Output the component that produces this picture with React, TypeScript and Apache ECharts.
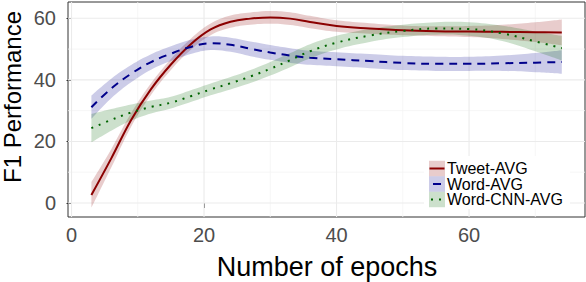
import React, { useEffect, useRef } from "react";
import * as echarts from "echarts";

const epochs = [3, 6, 9, 12, 15, 18, 21, 24, 27, 30, 33, 36, 40, 45, 50, 55, 60, 65, 70, 74];

const tweetAvg = [2.6, 14.5, 27.0, 37.0, 45.0, 51.6, 56.4, 58.9, 59.9, 60.3, 59.9, 58.8, 57.5, 56.7, 56.1, 55.8, 55.7, 55.6, 55.5, 55.4];
const tweetLow = [-1.6, 11.5, 24.8, 35.1, 43.2, 49.8, 54.5, 56.9, 57.9, 58.2, 57.8, 56.8, 55.65, 55.0, 54.5, 54.2, 53.9, 53.3, 52.3, 51.2];
const tweetHigh = [6.8, 17.5, 29.2, 38.9, 46.8, 53.4, 58.3, 60.9, 61.9, 62.4, 62.0, 60.8, 59.35, 58.4, 57.7, 57.4, 57.5, 57.9, 58.7, 59.6];

const wordAvg = [31.1, 37.2, 42.0, 45.8, 48.5, 50.7, 51.9, 51.4, 50.1, 48.9, 47.9, 47.2, 46.7, 46.1, 45.5, 45.2, 45.2, 45.4, 45.6, 45.8];
const wordLow = [27.3, 34.0, 39.2, 43.3, 46.1, 48.4, 49.7, 49.1, 47.7, 46.5, 45.5, 44.9, 44.4, 43.8, 43.2, 42.9, 42.9, 42.9, 42.5, 42.0];
const wordHigh = [34.9, 40.4, 44.8, 48.3, 50.9, 53.0, 54.1, 53.7, 52.5, 51.3, 50.3, 49.5, 49.0, 48.4, 47.8, 47.5, 47.5, 47.9, 48.7, 49.6];

const cnnAvg = [24.3, 27.0, 29.4, 31.2, 32.6, 34.7, 36.9, 38.9, 41.1, 43.6, 46.4, 49.3, 52.1, 54.4, 55.9, 56.7, 56.5, 55.1, 52.5, 50.3];
const cnnLow = [19.7, 23.5, 26.8, 29.1, 30.7, 32.8, 35.0, 36.9, 39.0, 41.4, 44.1, 47.0, 49.9, 52.3, 53.9, 54.7, 54.3, 52.6, 49.3, 46.3];
const cnnHigh = [28.9, 30.5, 32.0, 33.3, 34.5, 36.6, 38.8, 40.9, 43.2, 45.8, 48.7, 51.6, 54.3, 56.5, 57.9, 58.7, 58.7, 57.6, 55.7, 54.3];

const xTicks = [0, 20, 40, 60];
const xMinorTicks = [10, 30, 50, 70];
const yTicks = [0, 20, 40, 60];
const yMinorTicks = [10, 30, 50];

const seriesNames = ["Tweet-AVG", "Word-AVG", "Word-CNN-AVG"];

const FONT = "'Liberation Sans', Arial, sans-serif";
const X_MIN = -0.53;
const X_MAX = 77.5;
const Y_MIN = -4.55;
const Y_MAX = 65.3;
const SMOOTH = 0.4;

// Same smoothing scheme as ECharts line series (poly.ts), on pixel points
function smoothPath(pts: number[][], startWithMove: boolean): string {
  let d = "";
  const n = pts.length;
  let prevX = 0, prevY = 0, cpx0 = 0, cpy0 = 0;
  for (let k = 0; k < n; k++) {
    const [x, y] = pts[k];
    if (k === 0) {
      d += (startWithMove ? "M" : "L") + x + " " + y + " ";
      cpx0 = x; cpy0 = y;
    } else {
      let ratio = 0.5, vx = 0, vy = 0, ncx = x, ncy = y;
      if (k + 1 < n) {
        const [nx, ny] = pts[k + 1];
        vx = nx - prevX; vy = ny - prevY;
        const l0 = Math.hypot(x - prevX, y - prevY);
        const l1 = Math.hypot(nx - x, ny - y);
        ratio = l1 / (l0 + l1);
        ncx = x + vx * SMOOTH * ratio;
        ncy = y + vy * SMOOTH * ratio;
      }
      const cpx1 = x - vx * SMOOTH * (1 - ratio);
      const cpy1 = y - vy * SMOOTH * (1 - ratio);
      d += "C" + cpx0 + " " + cpy0 + " " + cpx1 + " " + cpy1 + " " + x + " " + y + " ";
      cpx0 = ncx; cpy0 = ncy;
    }
    prevX = x; prevY = y;
  }
  return d;
}

export default function App() {
  const ref = useRef<HTMLDivElement>(null);

  useEffect(() => {
    if (!ref.current) return;
    const chart = echarts.init(ref.current, undefined, { renderer: "svg" });

    const defs = [
      { name: seriesNames[0], avg: tweetAvg, low: tweetLow, high: tweetHigh, color: "#8B0000", fill: "rgba(139,0,0,0.2)", dash: "solid" as any },
      { name: seriesNames[1], avg: wordAvg, low: wordLow, high: wordHigh, color: "#00008B", fill: "rgba(0,0,139,0.2)", dash: [8, 6] },
      { name: seriesNames[2], avg: cnnAvg, low: cnnLow, high: cnnHigh, color: "#006400", fill: "rgba(0,100,0,0.2)", dash: [2, 6] },
    ];

    const series: any[] = [];

    const gridData = [
      ...xMinorTicks.map((v) => [v, 0, 0]),
      ...yMinorTicks.map((v) => [v, 1, 0]),
      ...xTicks.map((v) => [v, 0, 1]),
      ...yTicks.map((v) => [v, 1, 1]),
    ];
    series.push({
      type: "custom",
      name: "grid",
      silent: true,
      z: 1,
      encode: { x: -1, y: -1 },
      data: gridData,
      renderItem: (params: any, api: any) => {
        const v = api.value(0);
        const isY = api.value(1) === 1;
        const isMajor = api.value(2) === 1;
        const p1 = isY ? api.coord([X_MIN, v]) : api.coord([v, Y_MIN]);
        const p2 = isY ? api.coord([X_MAX, v]) : api.coord([v, Y_MAX]);
        return {
          type: "line",
          shape: { x1: p1[0], y1: p1[1], x2: p2[0], y2: p2[1] },
          style: { stroke: isMajor ? "#EBEBEB" : "#F4F4F4", lineWidth: isMajor ? 1.1 : 0.8 },
        };
      },
    });

    defs.forEach((d) => {
      series.push({
        type: "custom",
        name: d.name + " band",
        silent: true,
        z: 2,
        encode: { x: 0, y: [1, 2] },
        data: epochs.map((x, k) => [x, d.low[k], d.high[k]]),
        renderItem: (params: any, api: any) => {
          if (params.dataIndex !== 0) return null;
          const up = epochs.map((x, k) => api.coord([x, d.high[k]]));
          const lo = epochs.map((x, k) => api.coord([x, d.low[k]])).reverse();
          const path = smoothPath(up, true) + smoothPath(lo, false) + "Z";
          return {
            type: "path",
            shape: { pathData: path },
            style: { fill: d.fill, stroke: "none" },
          };
        },
      });
    });

    defs.forEach((d) => {
      series.push({
        type: "line",
        name: d.name,
        data: epochs.map((x, k) => [x, d.avg[k]]),
        symbol: "none",
        smooth: SMOOTH,
        lineStyle: { color: d.color, width: 2, type: d.dash, cap: "butt" },
        silent: true,
        z: 3,
      });
    });

    const rowsY = [168.5, 184, 199.5];
    const legendEls: any[] = [
      { type: "rect", shape: { x: 424, y: 156, width: 146, height: 53 }, style: { fill: "#FFFFFF" }, z: 10 },
    ];
    defs.forEach((d, i) => {
      const cy = rowsY[i];
      legendEls.push({ type: "rect", shape: { x: 429, y: cy - 7.75, width: 16, height: 15.5 }, style: { fill: d.fill }, z: 11 });
      const lx = i === 0 ? [429.5, 444.5] : i === 1 ? [433, 441] : [431, 443];
      legendEls.push({
        type: "line",
        shape: { x1: lx[0], y1: cy, x2: lx[1], y2: cy },
        style: { stroke: d.color, lineWidth: 2, lineDash: i === 2 ? [2, 6] : null },
        z: 12,
      });
      legendEls.push({
        type: "text",
        x: 447,
        y: cy,
        style: { text: d.name, fontSize: 16, fontFamily: FONT, fill: "#000000", verticalAlign: "middle", align: "left" },
        z: 12,
      });
    });

    const option: any = {
      animation: false,
      grid: {
        left: 68,
        right: 1,
        top: 2,
        bottom: 65,
        show: true,
        borderColor: "#333333",
        borderWidth: 1,
        backgroundColor: "transparent",
        containLabel: false,
      },
      xAxis: {
        type: "value",
        min: X_MIN,
        max: X_MAX,
        axisLine: { show: false },
        axisTick: { show: true, length: 5, lineStyle: { color: "#333333", width: 1 }, customValues: xTicks },
        axisLabel: { color: "#4D4D4D", fontSize: 20, fontFamily: FONT, margin: 8, customValues: xTicks },
        splitLine: { show: false },
      },
      yAxis: {
        type: "value",
        min: Y_MIN,
        max: Y_MAX,
        axisLine: { show: false },
        axisTick: { show: true, length: 5, lineStyle: { color: "#333333", width: 1 }, customValues: yTicks },
        axisLabel: { color: "#4D4D4D", fontSize: 20, fontFamily: FONT, margin: 12, customValues: yTicks },
        splitLine: { show: false },
      },
      series,
      graphic: [
        {
          type: "text",
          x: 327,
          y: 267,
          style: { text: "Number of epochs", fontSize: 27, fontFamily: FONT, fill: "#000000", align: "center", verticalAlign: "middle" },
        },
        {
          type: "text",
          x: 12,
          y: 97,
          rotation: Math.PI / 2,
          style: { text: "F1 Performance", fontSize: 24, fontFamily: FONT, fill: "#000000", align: "center", verticalAlign: "middle" },
        },
        ...legendEls,
      ],
    };

    chart.setOption(option);
    return () => chart.dispose();
  }, []);

  return (
    <div
      ref={ref}
      style={{ position: "fixed", left: 0, top: 0, width: 586, height: 282, background: "#FFFFFF" }}
    />
  );
}
